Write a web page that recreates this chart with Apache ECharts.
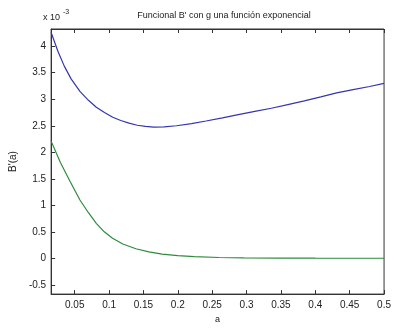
<!DOCTYPE html>
<html><head><meta charset="utf-8">
<script src="https://cdn.jsdelivr.net/npm/echarts@6/dist/echarts.min.js"></script>
<style>html,body{margin:0;padding:0;background:#fff}#c{width:394px;height:329px}</style>
</head><body><div id="c"></div>
<script>
const aValues = [0.0157,0.0257,0.035,0.045,0.0576,0.07,0.0814,0.0933,0.1053,0.117,0.129,0.141,0.153,0.165,0.18,0.198,0.22,0.241,0.265,0.288,0.312,0.336,0.36,0.384,0.408,0.431,0.455,0.479,0.5];
const blueValues = [4.26,3.90,3.62,3.38,3.15,2.98,2.85,2.75,2.66,2.60,2.55,2.51,2.49,2.475,2.48,2.50,2.54,2.59,2.65,2.71,2.77,2.83,2.90,2.97,3.045,3.12,3.18,3.24,3.30];
const greenA = [0.0157,0.029,0.0433,0.0576,0.07,0.0814,0.093,0.105,0.12,0.139,0.158,0.177,0.2,0.224,0.26,0.296,0.35,0.4,0.45,0.5];
const greenValues = [2.21,1.81,1.45,1.10,0.86,0.66,0.50,0.38,0.27,0.18,0.12,0.08,0.05,0.03,0.015,0.008,0.004,0.002,0.001,0.001];
const xTicks = [0.05,0.1,0.15,0.2,0.25,0.3,0.35,0.4,0.45,0.5];
const yTicks = [-0.5,0,0.5,1,1.5,2,2.5,3,3.5,4];
const titleText = "Funcional B' con g una función exponencial";

const font = 'Liberation Sans, Arial, sans-serif';
const chart = echarts.init(document.getElementById('c'));
const lineCol = '#333';
chart.setOption({
  animation:false,
  backgroundColor:'#fff',
  grid:{left:49,right:6,top:29,bottom:26,show:true,borderColor:lineCol,borderWidth:1,backgroundColor:'transparent'},
  title:{text:titleText,left:219,top:6,textAlign:'center',
    textStyle:{fontFamily:font,fontSize:9,fontWeight:'normal',color:'#222'}},
  graphic:[
    {type:'text',left:43,top:13,style:{text:'x 10',font:'9px '+font,fill:'#222'}},
    {type:'text',left:63,top:9,style:{text:'-3',font:'7px '+font,fill:'#222'}}
  ],
  xAxis:[{
    type:'value',gridIndex:0,position:'bottom',min:0.0157,max:0.5,
    name:'a',nameLocation:'middle',nameGap:15,
    nameTextStyle:{fontFamily:font,fontSize:9,color:'#222'},
    axisLine:{show:true,onZero:false,lineStyle:{color:lineCol,width:1}},
    splitLine:{show:false},
    axisTick:{show:true,inside:true,length:4,customValues:xTicks,lineStyle:{color:lineCol}},
    axisLabel:{customValues:xTicks,fontFamily:font,fontSize:10,color:'#222',margin:6,
      formatter:v=>String(+v.toFixed(2))}
  },{
    type:'value',gridIndex:0,position:'top',min:0.0157,max:0.5,
    axisLine:{show:true,onZero:false,lineStyle:{color:lineCol,width:1}},
    splitLine:{show:false},
    axisTick:{show:true,inside:true,length:4,customValues:xTicks,lineStyle:{color:lineCol}},
    axisLabel:{show:true,customValues:xTicks,formatter:()=>''}
  }],
  yAxis:[{
    type:'value',min:-0.675,max:4.325,
    name:"B'(a)",nameLocation:'middle',nameGap:28,nameRotate:90,
    nameTextStyle:{fontFamily:font,fontSize:10,color:'#222'},
    axisLine:{show:true,onZero:false,lineStyle:{color:lineCol,width:1}},
    splitLine:{show:false},
    axisTick:{show:true,inside:true,length:4,customValues:yTicks,lineStyle:{color:lineCol}},
    axisLabel:{customValues:yTicks,fontFamily:font,fontSize:10,color:'#222',margin:5,
      formatter:v=>String(+v.toFixed(1))}
  }],
  series:[
    {type:'line',data:aValues.map((a,i)=>[a,blueValues[i]]),smooth:false,showSymbol:false,
      lineStyle:{color:'#3535b0',width:1.2}},
    {type:'line',xAxisIndex:1,data:greenA.map((a,i)=>[a,greenValues[i]]),smooth:false,showSymbol:false,
      lineStyle:{color:'#2e8b3e',width:1.2}}
  ]
});
</script></body></html>
